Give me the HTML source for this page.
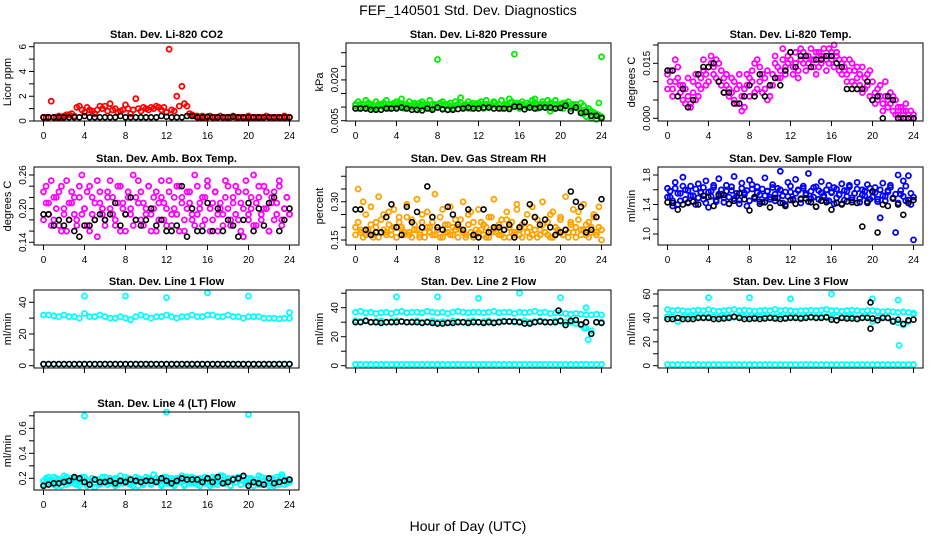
<!DOCTYPE html>
<html><head><meta charset="utf-8">
<style>
html,body{margin:0;padding:0;background:#fff;}
svg{display:block;font-family:"Liberation Sans",sans-serif;}
</style></head>
<body>
<svg id="chart" width="936" height="540" viewBox="0 0 936 540" xmlns="http://www.w3.org/2000/svg">
<rect x="0" y="0" width="936" height="540" fill="#fff"/>
<text x="468" y="15" text-anchor="middle" font-size="14">FEF_140501  Std. Dev. Diagnostics</text>
<text x="468" y="531" text-anchor="middle" font-size="14">Hour of Day (UTC)</text>
</svg>
<script>
// ---------- data ----------
const xTicks=[0,4,8,12,16,20,24];
const xTickLabels=["0","4","8","12","16","20","24"];

const p1Ticks=[0,1,2,3,4,5,6];
const p1Labels=["0","","2","","4","","6"];
const p1Red=[0.3,0.3,0.3,1.6,0.3,0.3,0.4,0.3,0.4,0.5,0.5,0.6,0.4,1.1,1.2,0.9,0.7,1.1,0.9,0.8,0.6,0.9,1.2,1.0,1.2,0.8,1.4,0.9,1.0,0.7,0.8,0.9,1.3,1.0,0.6,0.9,1.8,1.0,0.8,1.1,1.0,0.9,1.1,1.0,1.2,1.1,0.9,1.1,0.7,5.8,0.9,0.8,2.0,1.2,2.8,1.4,1.2,0.6,0.5,0.4,0.4,0.3,0.4,0.3,0.3,0.4,0.3,0.3,0.3,0.4,0.3,0.3,0.3,0.3,0.4,0.3,0.3,0.3,0.3,0.3,0.4,0.3,0.3,0.3,0.3,0.3,0.3,0.4,0.3,0.3,0.3,0.3,0.3,0.3,0.4,0.3,0.3];
const p1Black=[0.3,0.3,0.3,0.3,0.3,0.3,0.3,0.3,0.4,0.3,0.3,0.3,0.3,0.3,0.3,0.4,0.3,0.3,0.3,0.3,0.3,0.3,0.3,0.4,0.35,0.3,0.3,0.3,0.4,0.4,0.3,0.3,0.35,0.3,0.3,0.3,0.3,0.35,0.3,0.3,0.3,0.3,0.3,0.3,0.3,0.3,0.3,0.3,0.3];

const p2Ticks=[0.005,0.010,0.015,0.020,0.025,0.030];
const p2Labels=["0.005","","","0.020","",""];
const p2GreenA=[.011,.012,.0095,.011,.0125,.010,.011,.0095,.012,.0105,.011,.010,.0125,.011,.0095,.0115,.012,.0105,.013,.011,.010,.012,.0105,.011,.009,.0115,.012,.0105,.011,.0125,.0095,.011,.0275,.0105,.012,.011,.009,.0115,.0105,.012,.011,.0135,.0105,.011,.012,.0095,.0115,.011,.0105,.012,.011,.0125,.0105,.011,.012,.0105,.011,.0125,.011,.0105,.013,.012,.0295,.0115,.011,.012,.0105,.0115,.011,.0125,.013,.011,.0105,.012,.011,.0125,.0085,.011,.0125,.0105,.011,.0095,.0115,.012,.0105,.011,.010,.0095,.0085,.0075,.0065,.0095,.006,.0075,.0055,.0115,.0285];
const p2GreenB=[.0105,.0095,.011,.010,.0095,.0115,.010,.0105,.0095,.011,.0105,.0115,.010,.0095,.011,.0105,.010,.0115,.0105,.0095,.011,.0105,.010,.0115,.0105,.0095,.011,.010,.0105,.0095,.011,.0105,.010,.0115,.0095,.0105,.011,.010,.0095,.0105,.011,.0115,.010,.0105,.0095,.011,.0105,.010,.0115,.0105,.0095,.011,.010,.0105,.0115,.0105,.011,.0095,.0105,.011,.010,.0115,.011,.0105,.0095,.011,.0105,.010,.011,.0105,.0115,.0095,.0105,.011,.010,.0105,.0115,.0095,.011,.0105,.010,.0115,.011,.0105,.0095,.0105,.011,.010,.0115,.0105,.009,.0095,.0085,.008,.0075,.007,.0065];
const p2Black=[.0095,.0095,.0095,.009,.009,.009,.0095,.0095,.0095,.0098,.0095,.009,.009,.0088,.0095,.009,.0098,.0092,.009,.009,.0093,.0095,.0098,.0095,.0095,.0098,.0098,.0095,.0095,.0095,.0093,.0102,.0102,.0092,.0098,.0095,.0098,.0098,.0098,.0095,.0097,.0105,.0085,.0098,.0078,.0082,.0068,.0068,.006];

const p3Ticks=[0,0.005,0.010,0.015,0.020];
const p3Labels=["0.000","","","0.015",""];
const p3MagA=[.012,.010,.008,.016,.011,.007,.009,.004,.006,.003,.007,.005,.009,.011,.013,.009,.014,.015,.012,.016,.010,.013,.011,.009,.008,.007,.010,.004,.012,.006,.003,.009,.011,.013,.007,.016,.010,.012,.008,.005,.009,.012,.015,.011,.013,.016,.014,.017,.018,.012,.015,.013,.016,.018,.017,.015,.019,.016,.018,.014,.017,.019,.016,.015,.018,.020,.017,.016,.015,.014,.012,.016,.010,.013,.011,.009,.014,.008,.012,.006,.010,.007,.005,.009,.004,.006,.003,.007,.002,.005,.001,.003,.000,.002,.001,.000,.001];
const p3MagB=[.008,.013,.006,.010,.014,.009,.005,.008,.011,.004,.010,.012,.006,.008,.016,.012,.010,.017,.014,.011,.015,.009,.007,.012,.006,.011,.005,.008,.009,.002,.008,.012,.006,.010,.015,.008,.014,.007,.011,.013,.006,.009,.017,.014,.011,.019,.012,.015,.016,.014,.018,.011,.019,.015,.013,.017,.016,.014,.012,.018,.015,.017,.013,.019,.016,.014,.018,.013,.012,.016,.010,.013,.015,.009,.014,.012,.007,.011,.009,.013,.005,.004,.008,.006,.002,.010,.005,.004,.006,.001,.003,.000,.002,.004,.000,.002,.000];
const p3Black=[.013,.013,.006,.008,.003,.005,.012,.014,.014,.015,.010,.007,.007,.004,.004,.006,.009,.006,.012,.006,.009,.011,.009,.013,.018,.014,.017,.017,.014,.016,.016,.017,.017,.015,.014,.008,.008,.008,.008,.010,.005,.006,.000,.006,.005,.000,.000,.000,.000];

const p4Ticks=[0.14,0.16,0.18,0.20,0.22,0.24,0.26];
const p4Labels=["0.14","","","0.20","","","0.26"];
const p4MagA=[.23,.21,.19,.25,.18,.22,.17,.24,.20,.16,.21,.23,.19,.18,.22,.26,.20,.17,.24,.19,.21,.15,.23,.20,.18,.22,.25,.19,.17,.21,.24,.20,.16,.22,.19,.26,.18,.21,.23,.17,.20,.24,.19,.22,.16,.21,.25,.18,.20,.23,.17,.22,.19,.24,.21,.16,.20,.23,.18,.26,.19,.21,.17,.22,.24,.20,.18,.23,.16,.21,.19,.25,.20,.17,.22,.24,.18,.21,.15,.23,.19,.20,.26,.17,.22,.18,.24,.20,.16,.21,.23,.19,.25,.18,.20,.22,.19];
const p4MagB=[.18,.24,.21,.17,.22,.20,.23,.16,.19,.25,.18,.21,.22,.17,.24,.19,.20,.23,.16,.22,.18,.25,.21,.19,.17,.23,.20,.22,.18,.24,.16,.21,.19,.23,.20,.17,.22,.25,.18,.21,.19,.24,.16,.20,.23,.18,.22,.21,.17,.25,.19,.20,.24,.16,.22,.18,.23,.21,.19,.17,.24,.20,.22,.18,.25,.16,.21,.23,.19,.20,.17,.22,.24,.18,.21,.19,.23,.16,.20,.25,.18,.22,.17,.21,.24,.19,.20,.23,.16,.22,.18,.21,.24,.17,.20,.22,.19];
const p4Black=[.19,.19,.17,.18,.17,.18,.16,.15,.17,.17,.18,.19,.18,.19,.21,.17,.19,.22,.18,.17,.18,.20,.17,.18,.16,.16,.17,.24,.15,.20,.16,.16,.21,.16,.20,.16,.18,.17,.15,.18,.21,.16,.20,.17,.21,.22,.16,.18,.20];

const p5Ticks=[0.15,0.20,0.25,0.30,0.35,0.40];
const p5Labels=["0.15","","","0.30","",""];
const p5OrA=[.20,.35,.18,.30,.17,.19,.28,.16,.22,.32,.18,.25,.17,.21,.19,.27,.16,.24,.20,.18,.29,.17,.23,.19,.31,.16,.22,.18,.26,.20,.17,.33,.19,.24,.16,.21,.18,.28,.17,.23,.20,.19,.30,.16,.25,.18,.22,.17,.27,.19,.21,.16,.24,.18,.31,.20,.17,.23,.19,.26,.16,.22,.18,.29,.17,.21,.20,.25,.16,.28,.19,.23,.17,.30,.18,.22,.16,.26,.20,.19,.24,.17,.32,.18,.21,.27,.16,.23,.19,.29,.17,.22,.20,.25,.18,.28,.15];
const p5OrB=[.17,.22,.19,.16,.25,.18,.21,.17,.20,.16,.23,.19,.18,.26,.17,.20,.16,.22,.19,.17,.24,.18,.16,.21,.19,.17,.25,.16,.20,.18,.22,.17,.19,.16,.27,.18,.21,.17,.20,.19,.16,.23,.18,.17,.21,.26,.16,.19,.18,.22,.17,.20,.16,.24,.19,.18,.21,.17,.16,.23,.20,.18,.17,.27,.19,.16,.22,.18,.20,.17,.24,.16,.19,.21,.18,.17,.25,.16,.20,.18,.23,.17,.19,.16,.22,.18,.20,.26,.17,.19,.21,.16,.18,.24,.17,.20,.19];
const p5Black=[.27,.27,.19,.17,.18,.18,.24,.29,.20,.17,.28,.22,.26,.20,.36,.24,.20,.19,.28,.25,.21,.19,.27,.17,.16,.27,.18,.20,.20,.19,.21,.16,.20,.22,.29,.24,.21,.23,.20,.17,.18,.19,.34,.30,.28,.18,.19,.24,.31];

const p6Ticks=[1.0,1.2,1.4,1.6,1.8];
const p6Labels=["1.0","","1.4","","1.8"];
const p6BlueA=[1.62,1.50,1.38,1.70,1.55,1.45,1.77,1.60,1.42,1.65,1.52,1.40,1.68,1.57,1.47,1.72,1.36,1.58,1.63,1.44,1.75,1.54,1.49,1.66,1.41,1.59,1.78,1.51,1.46,1.69,1.56,1.38,1.73,1.61,1.48,1.64,1.53,1.43,1.76,1.58,1.50,1.67,1.45,1.62,1.85,1.52,1.40,1.70,1.57,1.47,1.74,1.60,1.42,1.65,1.55,1.82,1.48,1.63,1.37,1.59,1.71,1.50,1.45,1.66,1.56,1.41,1.61,1.53,1.68,1.46,1.58,1.64,1.49,1.55,1.70,1.43,1.60,1.52,1.67,1.47,1.57,1.63,1.44,1.22,1.69,1.51,1.59,1.66,1.48,1.02,1.80,1.54,1.72,1.45,1.79,1.40,0.92];
const p6BlueB=[1.50,1.58,1.45,1.62,1.40,1.55,1.65,1.47,1.59,1.52,1.44,1.61,1.49,1.56,1.63,1.42,1.57,1.51,1.66,1.46,1.54,1.60,1.43,1.58,1.50,1.64,1.48,1.55,1.41,1.62,1.53,1.59,1.45,1.67,1.50,1.56,1.44,1.61,1.52,1.58,1.47,1.63,1.54,1.49,1.60,1.42,1.57,1.51,1.65,1.46,1.55,1.59,1.48,1.62,1.53,1.44,1.58,1.50,1.64,1.47,1.56,1.52,1.60,1.45,1.57,1.63,1.49,1.54,1.41,1.59,1.51,1.66,1.46,1.55,1.61,1.48,1.53,1.58,1.44,1.62,1.50,1.56,1.47,1.60,1.52,1.45,1.57,1.63,1.49,1.54,1.42,1.59,1.51,1.65,1.46,1.55,1.50];
const p6Black=[1.43,1.42,1.33,1.40,1.43,1.44,1.40,1.52,1.50,1.38,1.52,1.53,1.41,1.45,1.55,1.47,1.32,1.50,1.41,1.43,1.36,1.49,1.42,1.38,1.46,1.41,1.47,1.48,1.43,1.37,1.45,1.43,1.33,1.42,1.40,1.44,1.43,1.42,1.10,1.42,1.58,1.02,1.40,1.38,1.48,1.40,1.26,1.42,1.46];

const p7Ticks=[0,10,20,30,40];
const p7Labels=["0","","20","","40"];
const p7CyanA=[32,32,31.5,31,32,31,31,30,33,31,31,32,31,30,30,31,30,29,31,32,31,30,31,31,32,31,30,31,31,32,31,31,32,32,31,31,32,31,31,30,31,31,31,30,30,30,29.5,30,30];
const p7CyanZero=[1,1,1,1,1,1,1,1,1,1,1,1,1,1,1,1,1,1,1,1,1,1,1,1,1,1,1,1,1,1,1,1,1,1,1,1,1,1,1,1,1,1,1,1,1,1,1,1,1];
const p7OutHours=[4,8,12,16,20,24];
const p7OutVals=[44,44,43,46,44,33.5];
const p7Black=[1,1,1,1,1,1,1,1,1,1,1,1,1,1,1,1,1,1,1,1,1,1,1,1,1,1,1,1,1,1,1,1,1,1,1,1,1,1,1,1,1,1,1,1,1,1,1,1,1];

const p8Ticks=[0,10,20,30,40,50];
const p8Labels=["0","","20","","40",""];
const p8CyanUp=[37,37.5,36.5,37,36,36.5,37,36,37,37.5,36.5,37,37,36.5,37.5,37,36.5,37,36,37,37.5,37,36.5,37,37,36.5,37,37.5,36.5,37,37,36,37,36.5,37,37.5,36.5,37,36,36.5,36.5,36,35.5,36,35.5,35,35,35.5,35];
const p8CyanLow=[31,30.5,31,30,30.5,31,30,30.5,31,30.5,30,30.5,31,30,30.5,31,30,30.5,30,31,30.5,30,30.5,31,30,30.5,31,30,30.5,31,30.5,30,30.5,31,30,30.5,31,30.5,30,31,30.5,30,30,29,28,26,24,30,30];
const p8CyanZero=[1,1,1,1,1,1,1,1,1,1,1,1,1,1,1,1,1,1,1,1,1,1,1,1,1,1,1,1,1,1,1,1,1,1,1,1,1,1,1,1,1,1,1,1,1,1,1,1,1];
const p8OutHours=[4,8,12,16,20,22.5,22.7,22.3];
const p8OutVals=[47.5,47.5,46.5,50,47,40,18,26];
const p8Black=[30,30,31,30,30,29.5,30,30,30,30.5,30,30,30,29.5,30,29.5,29,29,29.5,29.5,30,30,29.5,30,30,29.5,30,29.5,30,30.5,30.5,30.5,30,29,29,30,30.5,30,30,30,31,28,31,31.5,28.5,30,22,30,29.5];
const p8BlackOutHours=[19.8];
const p8BlackOutVals=[38];

const p9Ticks=[0,10,20,30,40,50,60];
const p9Labels=["0","","20","","40","","60"];
const p9CyanUp=[47,46,46.5,46,45.5,46,46.5,46,47,46,45.5,46,46.5,47,46,46.5,46,45.5,46,46.5,46,47,46,46.5,46,45.5,46,46,46.5,46,46.5,47,46,46,45.5,46,46.5,46,45.5,46,46,45.5,45,45.5,45,44.5,45,44.5,44];
const p9CyanLow=[41,41,37,41,40.5,41,41,40.5,41,41,40.5,41,41,40.5,41,41,40.5,41,41,41,40.5,41,41,40.5,41,41,40.5,41,41,40.5,41,41,40.5,41,40.5,41,41,40,40.5,41,37,40.5,41,40,38,36,34,37,43];
const p9CyanZero=[1,1,1,1,1,1,1,1,1,1,1,1,1,1,1,1,1,1,1,1,1,1,1,1,1,1,1,1,1,1,1,1,1,1,1,1,1,1,1,1,1,1,1,1,1,1,1,1,1];
const p9OutHours=[4,8,12,16,20,22.5,22.6];
const p9OutVals=[57,57,56,60,56,55,17];
const p9Black=[39,39,40,39,39,39,40,40,40,39,39,39.5,40,41,40,39,39,39.5,39,39.5,40,39.5,39,39.5,40,40,39.5,40,40.5,40,40,40.5,38.5,38,40,39.5,39.5,39,40,40,39.5,38,40,40,37,38.5,35,38,38.5];
const p9BlackOutHours=[19.8,19.8];
const p9BlackOutVals=[53,31];

const p10Ticks=[0.2,0.3,0.4,0.5,0.6,0.7];
const p10Labels=["0.2","","0.4","","0.6",""];
const p10CyanA=[.15,.20,.18,.16,.21,.14,.19,.17,.22,.15,.18,.20,.16,.19,.14,.21,.17,.18,.15,.20,.13,.19,.16,.21,.18,.15,.20,.17,.14,.19,.22,.16,.18,.20,.15,.17,.21,.14,.19,.16,.18,.20,.15,.23,.17,.19,.14,.21,.16,.18,.20,.15,.17,.19,.22,.14,.18,.16,.21,.17,.15,.20,.18,.16,.19,.14,.21,.17,.15,.22,.18,.16,.20,.14,.19,.17,.21,.15,.18,.16,.20,.19,.14,.17,.22,.15,.18,.20,.16,.19,.14,.21,.17,.23,.15,.19,.17];
const p10CyanB=[.18,.16,.21,.19,.15,.20,.17,.14,.19,.21,.16,.18,.20,.15,.19,.17,.21,.14,.18,.20,.16,.19,.15,.17,.21,.18,.16,.19,.20,.15,.17,.18,.21,.16,.19,.14,.18,.20,.17,.15,.21,.19,.16,.18,.20,.17,.15,.19,.21,.16,.18,.14,.20,.17,.19,.15,.21,.18,.16,.20,.17,.14,.19,.21,.16,.18,.15,.20,.17,.19,.22,.16,.18,.14,.20,.17,.19,.15,.21,.18,.16,.20,.17,.19,.15,.21,.18,.16,.14,.20,.17,.19,.15,.21,.18,.16,.19];
const p10OutHours=[4,12,20];
const p10OutVals=[0.70,0.73,0.71];
const p10Black=[.14,.15,.16,.16,.17,.18,.21,.20,.17,.15,.19,.17,.17,.18,.16,.18,.17,.19,.18,.17,.18,.18,.17,.20,.18,.16,.18,.20,.19,.19,.19,.17,.20,.17,.21,.16,.17,.19,.20,.22,.14,.17,.16,.15,.20,.16,.17,.18,.19];

// ---------- layout ----------
const NS="http://www.w3.org/2000/svg";
const svg=document.getElementById('chart');
const colLeft=[34,346,658];
const rowTop=[43,167,290,412];
const BW=265, BH=78;
const CYAN="#00ffff", ORANGE="#ffa200";

const panels=[
 {key:'co2',c:0,r:0,title:'Stan. Dev. Li-820 CO2',ylab:'Licor ppm',ref:0,refPx:121,ppu:12.38,ticks:p1Ticks,labels:p1Labels,xl:true,
  series:[{v:p1Red,col:'#ff0000'},{v:p1Black,col:'#000'}]},
 {key:'pressure',c:1,r:0,title:'Stan. Dev. Li-820 Pressure',ylab:'kPa',ref:0.005,refPx:120.7,ppu:2720,ticks:p2Ticks,labels:p2Labels,xl:true,
  series:[{v:p2GreenA,col:'#00ee00'},{v:p2GreenB,col:'#00ee00'},{v:p2Black,col:'#000'}]},
 {key:'licor-temp',c:2,r:0,title:'Stan. Dev. Li-820 Temp.',ylab:'degrees C',ref:0,refPx:118.3,ppu:3667,ticks:p3Ticks,labels:p3Labels,xl:true,
  series:[{v:p3MagA,col:'#ff00ff'},{v:p3MagB,col:'#ff00ff'},{v:p3Black,col:'#000'}]},
 {key:'amb-box-temp',c:0,r:1,title:'Stan. Dev. Amb. Box Temp.',ylab:'degrees C',ref:0.14,refPx:242.3,ppu:561,ticks:p4Ticks,labels:p4Labels,xl:true,
  series:[{v:p4MagA,col:'#ff00ff'},{v:p4MagB,col:'#ff00ff'},{v:p4Black,col:'#000'}]},
 {key:'gas-stream-rh',c:1,r:1,title:'Stan. Dev. Gas Stream RH',ylab:'percent',ref:0.15,refPx:240,ppu:255,ticks:p5Ticks,labels:p5Labels,xl:true,
  series:[{v:p5OrA,col:ORANGE},{v:p5OrB,col:ORANGE},{v:p5Black,col:'#000'}]},
 {key:'sample-flow',c:2,r:1,title:'Stan. Dev. Sample Flow',ylab:'ml/min',ref:1.0,refPx:234,ppu:73.75,ticks:p6Ticks,labels:p6Labels,xl:true,
  series:[{v:p6BlueA,col:'#0000ff'},{v:p6BlueB,col:'#0000ff'},{v:p6Black,col:'#000'}]},
 {key:'line1-flow',c:0,r:2,title:'Stan. Dev. Line 1 Flow',ylab:'ml/min',ref:0,refPx:365.7,ppu:1.585,ticks:p7Ticks,labels:p7Labels,xl:false,
  series:[{v:p7CyanA,col:CYAN},{v:p7CyanZero,col:CYAN},{v:p7OutVals,h:p7OutHours,col:CYAN},{v:p7Black,col:'#000'}]},
 {key:'line2-flow',c:1,r:2,title:'Stan. Dev. Line 2 Flow',ylab:'ml/min',ref:0,refPx:365.7,ppu:1.45,ticks:p8Ticks,labels:p8Labels,xl:false,
  series:[{v:p8CyanUp,col:CYAN},{v:p8CyanLow,col:CYAN},{v:p8CyanZero,col:CYAN},{v:p8OutVals,h:p8OutHours,col:CYAN},{v:p8Black,col:'#000'},{v:p8BlackOutVals,h:p8BlackOutHours,col:'#000'}]},
 {key:'line3-flow',c:2,r:2,title:'Stan. Dev. Line 3 Flow',ylab:'ml/min',ref:0,refPx:365.7,ppu:1.195,ticks:p9Ticks,labels:p9Labels,xl:false,
  series:[{v:p9CyanUp,col:CYAN},{v:p9CyanLow,col:CYAN},{v:p9CyanZero,col:CYAN},{v:p9OutVals,h:p9OutHours,col:CYAN},{v:p9Black,col:'#000'},{v:p9BlackOutVals,h:p9BlackOutHours,col:'#000'}]},
 {key:'line4-flow',c:0,r:3,title:'Stan. Dev. Line 4 (LT) Flow',ylab:'ml/min',ref:0.2,refPx:478.3,ppu:125,ticks:p10Ticks,labels:p10Labels,xl:true,
  series:[{v:p10CyanA,col:CYAN},{v:p10CyanB,col:CYAN},{v:p10OutVals,h:p10OutHours,col:CYAN},{v:p10Black,col:'#000'}]}
];

function mk(tag,attrs,parent){
  const e=document.createElementNS(NS,tag);
  for(const k in attrs) e.setAttribute(k,attrs[k]);
  (parent||svg).appendChild(e);
  return e;
}
function xScale(p,h){return p.left+9.5+h*10.25;}
function yScale(p,v){return p.refPx-(v-p.ref)*p.ppu;}

panels.forEach(p=>{
  p.left=colLeft[p.c]; p.top=rowTop[p.r];
  const g=mk('g',{});
  
  
  const t=mk('text',{x:p.left+BW/2,y:p.top-5,'text-anchor':'middle','font-size':'11','font-weight':'bold'},g);
  t.textContent=p.title;
  
  
  const pts=mk('g',{fill:'none'},g);
  
  
  p.series.forEach(s=>{
    const n=s.v.length;
    const black=(s.col==='#000');
    for(let i=0;i<n;i++){
      const h=s.h? s.h[i] : i*24/(n-1);
      const c=mk('circle',{cx:xScale(p,h).toFixed(1),cy:yScale(p,s.v[i]).toFixed(1),r:'2.5',stroke:s.col,'stroke-width':black?'1.6':'1.8'},pts);
      
      
    }
  });
  const box=mk('rect',{x:p.left,y:p.top,width:BW,height:BH,fill:'none',stroke:'#000','stroke-width':'1'},g);
  
  
  const xa=mk('g',{},g);
  
  
  const yb=p.top+BH;
  xTicks.forEach((h,i)=>{
    const x=xScale(p,h);
    mk('line',{x1:x,y1:yb,x2:x,y2:yb+5,stroke:'#000'},xa);
    if(p.xl){
      const tx=mk('text',{x:x,y:yb+18,'text-anchor':'middle','font-size':'10'},xa);
      tx.textContent=xTickLabels[i];
      
      
    }
  });
  const ya=mk('g',{},g);
  
  
  p.ticks.forEach((v,i)=>{
    const y=yScale(p,v);
    mk('line',{x1:p.left,y1:y,x2:p.left-5,y2:y,stroke:'#000'},ya);
    if(p.labels[i]){
      const tx=mk('text',{x:0,y:0,'text-anchor':'middle','font-size':'10',transform:`translate(${p.left-8},${y}) rotate(-90)`},ya);
      tx.textContent=p.labels[i];
      
      
    }
  });
  const yl=mk('text',{x:0,y:0,'text-anchor':'middle','font-size':'11',transform:`translate(${p.left-23},${p.top+BH/2}) rotate(-90)`},g);
  yl.textContent=p.ylab;
  
  
});
</script>
</body></html>
